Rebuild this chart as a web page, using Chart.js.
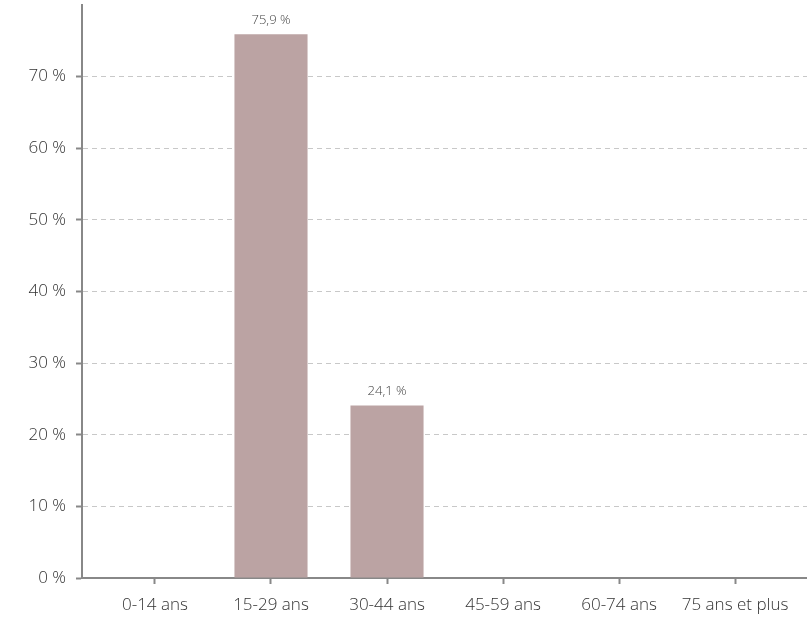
<!DOCTYPE html>
<html>
<head>
<meta charset="utf-8">
<script src="https://cdn.jsdelivr.net/npm/chart.js@4/dist/chart.umd.min.js"></script>
<style>
  html, body { margin: 0; padding: 0; background: #fff; }
  #wrap { width: 807px; height: 619px; }
</style>
</head>
<body>
<div id="wrap"><canvas id="chart"></canvas></div>
<script>
const categories = ['0-14 ans', '15-29 ans', '30-44 ans', '45-59 ans', '60-74 ans', '75 ans et plus'];
const values = [0, 75.9, 24.1, 0, 0, 0];
const yTicks = [0, 10, 20, 30, 40, 50, 60, 70];

const fmt = v => v.toFixed(1).replace('.', ',') + ' %';

const barLabels = {
  id: 'barLabels',
  afterDatasetsDraw(chart) {
    const c = chart.ctx;
    const meta = chart.getDatasetMeta(0);
    c.save();
    c.font = '300 13px "Open Sans"';
    c.fillStyle = '#444';
    c.textAlign = 'center';
    c.textBaseline = 'bottom';
    meta.data.forEach((bar, i) => {
      if (!values[i]) return;
      c.fillText(fmt(values[i]), bar.x, bar.y - 8);
    });
    c.restore();
  }
};

new Chart(document.getElementById('chart'), {
  type: 'bar',
  data: {
    datasets: [{
      data: values.map((v, i) => ({ x: i, y: v })),
      backgroundColor: '#bba3a3',
      categoryPercentage: 0.7,
      barPercentage: 0.9
    }]
  },
  options: {
    responsive: true,
    maintainAspectRatio: false,
    animation: false,
    layout: { padding: { top: 5, right: 0, left: 0, bottom: 0 } },
    plugins: { legend: { display: false }, tooltip: { enabled: false } },
    scales: {
      x: {
        type: 'linear',
        offset: false,
        min: -0.629,
        max: 5.62,
        afterBuildTicks(scale) {
          scale.ticks = categories.map((c, i) => ({ value: i }));
        },
        afterFit(scale) {
          scale.height = 41;
          scale.paddingLeft = 0;
          scale.paddingRight = 0;
        },
        ticks: {
          autoSkip: false,
          maxRotation: 0,
          padding: 11,
          color: '#333',
          font: { family: '"Open Sans"', size: 17, weight: 300 },
          callback: v => categories[v]
        },
        grid: { offset: false, drawOnChartArea: false, drawTicks: true, tickLength: 6, tickColor: '#888', tickWidth: 2, tickBorderDash: [] },
        border: { color: '#888', width: 2 }
      },
      y: {
        min: 0,
        max: 80,
        afterBuildTicks(scale) {
          scale.ticks = yTicks.map(v => ({ value: v }));
        },
        afterFit(scale) {
          scale.width = 82;
          scale.paddingTop = 0;
          scale.paddingBottom = 0;
        },
        ticks: {
          padding: 10,
          color: '#333',
          font: { family: '"Open Sans"', size: 17, weight: 300 },
          callback: v => v + ' %'
        },
        grid: {
          color: '#c8c8c8',
          lineWidth: 1,
          tickLength: 6,
          tickColor: '#888',
          tickWidth: 2,
          tickBorderDash: []
        },
        border: { color: '#888', width: 2, dash: [5, 4] }
      }
    }
  },
  plugins: [barLabels]
});
</script>
</body>
</html>
